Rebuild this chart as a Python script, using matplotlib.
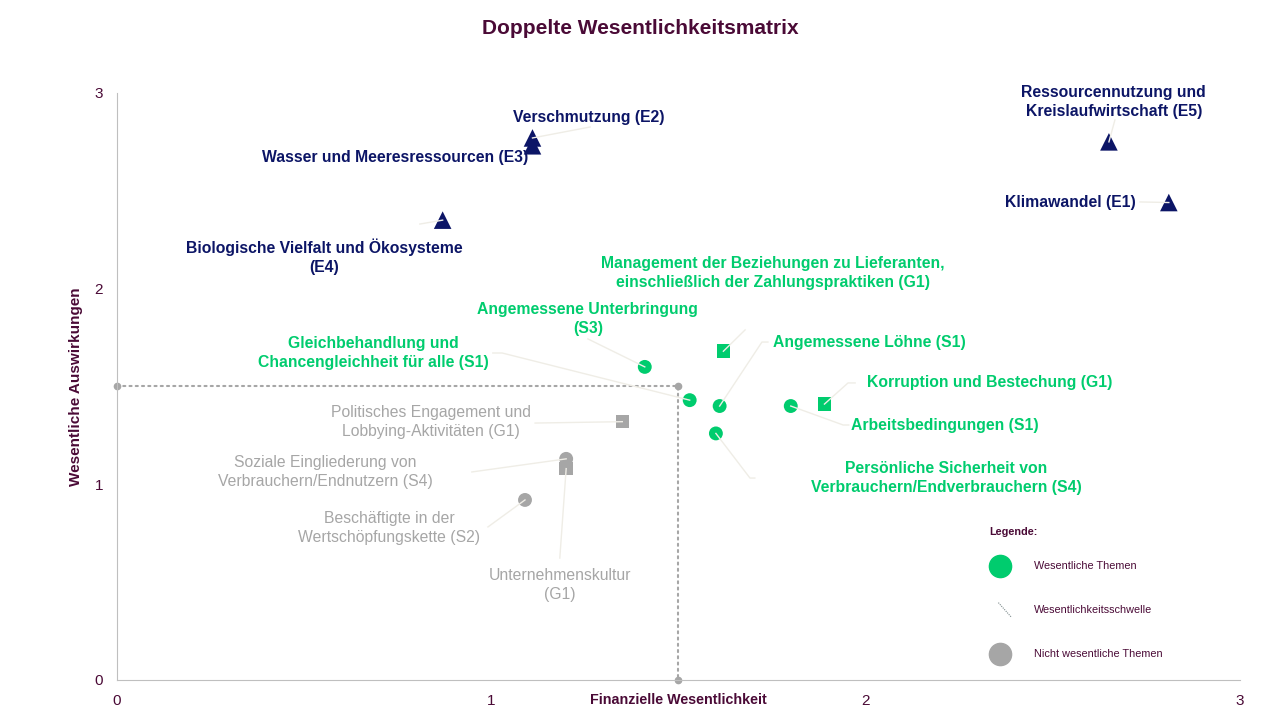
import matplotlib
matplotlib.use("Agg")
import matplotlib.pyplot as plt
from matplotlib.lines import Line2D

plt.rcParams["font.family"] = ["Liberation Sans", "DejaVu Sans"]

# Themen: Name, finanzielle Wesentlichkeit (x), Auswirkungen (y), Art, Gruppe
themen = [
    "Verschmutzung (E2)",
    "Wasser und Meeresressourcen (E3)",
    "Biologische Vielfalt und Ökosysteme\n(E4)",
    "Ressourcennutzung und\nKreislaufwirtschaft (E5)",
    "Klimawandel (E1)",
    "Management der Beziehungen zu Lieferanten,\neinschließlich der Zahlungspraktiken (G1)",
    "Angemessene Unterbringung\n(S3)",
    "Gleichbehandlung und\nChancengleichheit für alle (S1)",
    "Angemessene Löhne (S1)",
    "Korruption und Bestechung (G1)",
    "Arbeitsbedingungen (S1)",
    "Persönliche Sicherheit von\nVerbrauchern/Endverbrauchern (S4)",
    "Politisches Engagement und\nLobbying-Aktivitäten (G1)",
    "Soziale Eingliederung von\nVerbrauchern/Endnutzern (S4)",
    "Unternehmenskultur\n(G1)",
    "Beschäftigte in der\nWertschöpfungskette (S2)",
]
fin_x = [1.11, 1.11, 0.87, 2.65, 2.81, 1.62, 1.41, 1.53, 1.61, 1.89, 1.80, 1.60,
         1.35, 1.20, 1.20, 1.09]
imp_y = [2.77, 2.73, 2.35, 2.75, 2.44, 1.68, 1.60, 1.43, 1.40, 1.41, 1.40, 1.26,
         1.32, 1.13, 1.08, 0.92]
art = ["E", "E", "E", "E", "E", "G", "S", "S", "S", "G", "S", "S",
       "G", "S", "G", "S"]
gruppe = ["umwelt"] * 5 + ["wesentlich"] * 7 + ["nicht"] * 4

schwelle_x = 1.5
schwelle_y = 1.5

# Layout: Beschriftungsposition und Knickpunkte der Führungslinien
label_pos = [
    (1.261, 2.877), (0.742, 2.668), (0.553, 2.162), (2.663, 2.954),
    (2.546, 2.438), (1.752, 2.080), (1.258, 1.845), (0.684, 1.671),
    (2.009, 1.727), (2.332, 1.518), (2.212, 1.303), (2.215, 1.032),
    (0.839, 1.319), (0.556, 1.063), (1.183, 0.486), (0.727, 0.777),
]
leader = [
    [(1.264, 2.826)], [], [(0.809, 2.330)], [(2.666, 2.862)],
    [(2.733, 2.443)], [(1.678, 1.789)], [(1.258, 1.743)],
    [(1.029, 1.671), (1.004, 1.671)],
    [(1.723, 1.727), (1.739, 1.727)],
    [(1.953, 1.518), (1.972, 1.518)],
    [(1.940, 1.303), (1.955, 1.303)],
    [(1.691, 1.032), (1.704, 1.032)],
    [(1.117, 1.313)], [(0.948, 1.063)], [(1.183, 0.623)], [(0.991, 0.782)],
]

NAVY = "#0C1566"
GREEN = "#00CC6E"
GREY = "#A6A6A6"
PURPLE = "#4A0A36"
LEADER = "#EFEDE6"

farben = {"umwelt": NAVY, "wesentlich": GREEN, "nicht": GREY}
marker = {"E": "^", "S": "o", "G": "s"}
groesse = {"E": 160, "S": 100, "G": 95}

fig = plt.figure(figsize=(12.8, 7.2), dpi=100)
ax = fig.add_axes([0.0914, 0.0556, 0.8773, 0.8153])

# Wesentlichkeitsschwelle
ax.plot([0, schwelle_x, schwelle_x], [schwelle_y, schwelle_y, 0], color=GREY,
        linestyle=(0, (1, 2)), linewidth=1.5, dash_capstyle="round", zorder=1)
ax.plot([0, schwelle_x, schwelle_x], [schwelle_y, schwelle_y, 0], "o",
        color=GREY, markersize=4.5, zorder=1, clip_on=False)

for i, name in enumerate(themen):
    c = farben[gruppe[i]]
    ax.scatter(fin_x[i], imp_y[i], marker=marker[art[i]], s=groesse[art[i]],
               color=c, edgecolors="none", zorder=3)
    if leader[i]:
        xs = [fin_x[i]] + [p[0] for p in leader[i]]
        ys = [imp_y[i]] + [p[1] for p in leader[i]]
        ax.plot(xs, ys, color=LEADER, linewidth=1, zorder=4)
    bold = gruppe[i] != "nicht"
    ax.text(label_pos[i][0], label_pos[i][1], name, color=c, fontsize=11.3,
            fontweight="bold" if bold else "normal", ha="center", va="center",
            linespacing=1.3, zorder=5)

ax.set_xlim(0, 3)
ax.set_ylim(0, 3)
ax.set_xticks([0, 1, 2, 3])
ax.set_yticks([0, 1, 2, 3])
ax.tick_params(length=0, colors=PURPLE, labelsize=11, pad=10)
for s in ["top", "right"]:
    ax.spines[s].set_visible(False)
for s in ["left", "bottom"]:
    ax.spines[s].set_color("#BFBFBF")
ax.set_xlabel("Finanzielle Wesentlichkeit", color=PURPLE, fontsize=10.3,
              fontweight="bold", labelpad=-11)
ax.set_ylabel("Wesentliche Auswirkungen", color=PURPLE, fontsize=11,
              fontweight="bold", labelpad=8)

fig.text(0.5, 0.960, "Doppelte Wesentlichkeitsmatrix", color=PURPLE,
         fontsize=15, fontweight="bold", ha="center", va="center")

# Legende
fig.text(0.773, 0.261, "Legende:", color=PURPLE, fontsize=7.8,
         fontweight="bold", ha="left", va="center")
fig.add_artist(Line2D([0.781], [0.214], marker="o", markersize=16,
                      color=GREEN, linestyle="none"))
fig.add_artist(Line2D([0.780, 0.790], [0.163, 0.143], color="#7F8C8D",
                      linestyle=(0, (1, 1)), linewidth=0.8))
fig.add_artist(Line2D([0.781], [0.092], marker="o", markersize=16,
                      color=GREY, linestyle="none"))
for yy, txt in [(0.214, "Wesentliche Themen"),
                (0.153, "Wesentlichkeitsschwelle"),
                (0.092, "Nicht wesentliche Themen")]:
    fig.text(0.808, yy, txt, color=PURPLE, fontsize=7.8, ha="left", va="center")

fig.savefig("out.png", dpi=100)
